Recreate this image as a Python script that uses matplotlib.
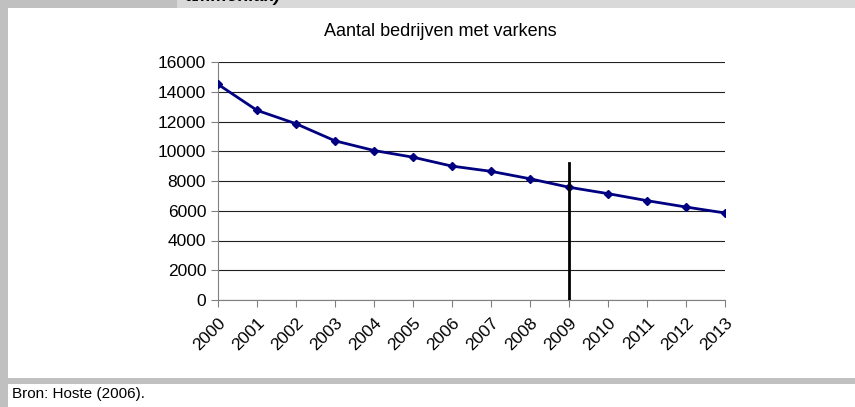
import matplotlib
matplotlib.use("Agg")
import matplotlib.pyplot as plt
from matplotlib.patches import Rectangle

YEARS = [str(y) for y in range(2000, 2014)]
BEDRIJVEN = [14500, 12750, 11850, 10700, 10050, 9600, 9000, 8650, 8150, 7580,
             7150, 6680, 6250, 5850]
MARK_YEAR = "2009"
MARK_TOP = 9200

W, H = 855, 407
fig = plt.figure(figsize=(W / 100, H / 100), dpi=100)
fig.patch.set_facecolor("white")


def px_rect(x0, y0, x1, y1, color):
    # rectangle in pixel coords (origin top-left)
    fig.patches.append(Rectangle((x0 / W, 1 - y1 / H), (x1 - x0) / W, (y1 - y0) / H,
                                 transform=fig.transFigure, facecolor=color,
                                 edgecolor="none", zorder=0))


# frame around the chart
px_rect(0, 0, 8, H, "#c0c0c0")
px_rect(0, 0, 177, 8, "#c0c0c0")
px_rect(177, 0, W, 8, "#d9d9d9")
px_rect(8, 378, W, 384, "#c0c0c0")
fig.text(186 / W, 1 - 1 / H, "ammoniak)", fontsize=13, fontweight="bold",
         fontstyle="italic", va="baseline", ha="left", family="Liberation Sans")
fig.text(12 / W, 1 - 394 / H, "Bron: Hoste (2006).", fontsize=11, va="center",
         ha="left", family=["Liberation Sans Narrow", "Liberation Sans"])
fig.text(440 / W, 1 - 32 / H, "Aantal bedrijven met varkens", fontsize=13,
         ha="center", va="center", family="Liberation Sans")

ax = fig.add_axes([218 / W, 1 - 300 / H, (725 - 218) / W, (300 - 62) / H])
ax.set_facecolor("none")
x = list(range(len(YEARS)))
ax.plot(x, BEDRIJVEN, color="#000080", lw=2, marker="D", ms=4, zorder=3)
xi = YEARS.index(MARK_YEAR)
ax.plot([xi, xi], [0, MARK_TOP], color="black", lw=2, zorder=4)

ax.set_xlim(0, len(YEARS) - 1)
ax.set_ylim(0, 16000)
ax.set_yticks(range(0, 16001, 2000))
ax.set_xticks(x)
ax.set_xticklabels(YEARS, rotation=45, ha="right", rotation_mode="anchor")
ax.grid(axis="y", color="#202020", lw=0.8)
ax.set_axisbelow(True)
for s in ["top", "right"]:
    ax.spines[s].set_visible(False)
for s in ["left", "bottom"]:
    ax.spines[s].set_color("#808080")
ax.tick_params(direction="out", length=5, color="#808080", labelsize=12.5)
ax.tick_params(axis="x", pad=6)
for lab in ax.get_xticklabels() + ax.get_yticklabels():
    lab.set_family("Liberation Sans")

fig.savefig("out.png", dpi=100)
